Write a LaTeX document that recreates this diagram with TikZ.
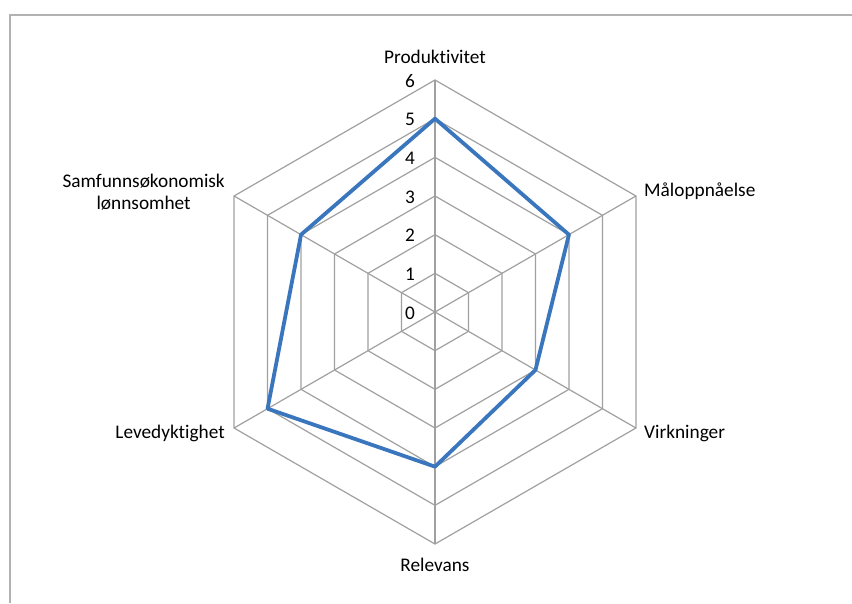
\documentclass[tikz,border=0pt]{standalone}
\usepackage{fontspec}
\setmainfont{Carlito}[Ligatures={NoCommon}]
\definecolor{gridgray}{RGB}{160,160,160}
\definecolor{framegray}{RGB}{178,178,178}
\definecolor{seriesblue}{RGB}{58,118,190}
\begin{document}
\begin{tikzpicture}[x=1pt,y=1pt,
  grid/.style={draw=gridgray, line width=1.2pt},
  series/.style={draw=seriesblue, line width=3.8pt, line join=round},
  frame/.style={draw=framegray, line width=1.6pt},
  axislabel/.style={inner sep=0pt, font=\fontsize{19.3}{22}\selectfont},
  ticklabel/.style={inner sep=0pt, font=\fontsize{19.3}{22}\selectfont}]
\useasboundingbox (-435,-291) rectangle (417,312);
\pgfmathsetmacro{\rstep}{38.67}

% chart area border (top and left edges)
\draw[frame] (-425,-291) -- (-425,297) -- (417,297);

% radar grid: six hexagonal rings and six spokes
\coordinate (c) at (0,0);
\foreach \k in {1,...,6}
  \draw[grid] (90:{\k*\rstep}) -- (30:{\k*\rstep}) -- (-30:{\k*\rstep})
    -- (-90:{\k*\rstep}) -- (-150:{\k*\rstep}) -- (150:{\k*\rstep}) -- cycle;
\foreach \a [count=\i] in {90,30,-30,-90,-150,150} {
  \coordinate (s\i) at (\a:{6*\rstep});
  \draw[grid] (c) -- (s\i);
}

% scale labels
\foreach \k in {0,...,6}
  \node[ticklabel] (t\k) at ({-25},{\k*\rstep-1}) {\k};

% axis labels
\node[axislabel] (produktivitet) at (0,255) {Produktivitet};
\node[axislabel, anchor=west] (maloppnaelse) at (209,121) {Måloppnåelse};
\node[axislabel, anchor=west] (virkninger) at (209,-121) {Virkninger};
\node[axislabel] (relevans) at (0,-253) {Relevans};
\node[axislabel, anchor=east] (levedyktighet) at (-210,-121) {Levedyktighet};
\node[axislabel, anchor=east, align=center] (lonnsomhet) at (-210,120)
  {Samfunnsøkonomisk\\lønnsomhet};

% data series
\foreach \a/\v [count=\i] in {90/5,30/4,-30/3,-90/4,-150/5,150/4}
  \coordinate (p\i) at (\a:{\v*\rstep});
\draw[series] (p1) -- (p2) -- (p3) -- (p4) -- (p5) -- (p6) -- cycle;
\end{tikzpicture}
\end{document}
